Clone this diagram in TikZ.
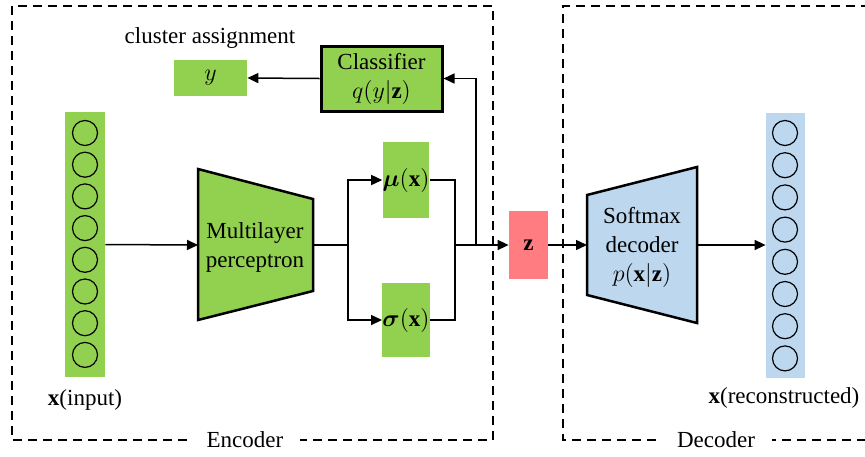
\documentclass[tikz,border=0pt]{standalone}
\usepackage{fontspec}
\setmainfont{Liberation Serif}
\usepackage{bm}
\usetikzlibrary{arrows.meta}
\definecolor{vgreen}{HTML}{92D050}
\definecolor{vblue}{HTML}{BDD7EE}
\definecolor{vred}{HTML}{FF7C80}
\begin{document}
\begin{tikzpicture}[x=0.5pt,y=-0.5pt,
  font=\fontsize{11.5}{14.5}\selectfont,
  conn/.style={line width=0.75pt,-{Triangle[length=5.5pt,width=5pt]}},
  plain/.style={line width=0.75pt},
  frame/.style={dash pattern=on 4.5pt off 3pt,line width=0.7pt},
  gbox/.style={fill=vgreen,inner sep=0pt},
  neuron/.style={circle,draw,line width=0.6pt,minimum size=12.5pt,inner sep=0pt},
  colbox/.style={inner sep=0pt,minimum width=20pt,minimum height=132.5pt},
  trap/.style={draw,line width=1.25pt,line join=miter},
  flabel/.style={fill=white,inner xsep=8.5pt,inner ysep=1pt}]
\useasboundingbox (0,0) rectangle (865,456);
\fill[white] (0,0) rectangle (865,456);

% frames
\draw[frame] (12,6) rectangle (493,440);
\draw[frame] (870,6) -- (563,6) -- (563,440) -- (870,440);
\node[flabel] (enc) at (245,440) {Encoder};
\node[flabel] (dec) at (716,440) {Decoder};

% input column
\node[colbox,fill=vgreen] (inp) at (85,244.5) {};
\foreach \i in {0,...,7}{
  \node[neuron] (in\i) at (85,133+\i*31.7) {};
}
\node (inlab) at (85,400) {$\mathbf{x}$(input)};

% MLP trapezoid
\draw[trap,fill=vgreen] (198,169) -- (313,199) -- (313,291) -- (198,320) -- cycle;
\coordinate (mlpL) at (198,245);
\coordinate (mlpR) at (313,245);
\node[align=center] (mlp) at (255,247) {Multilayer\\perceptron};

% mu, sigma
\node[gbox,minimum width=23pt,minimum height=38pt] (mu) at (406,180) {$\bm{\mu}(\mathbf{x})$};
\node[gbox,minimum width=23pt,minimum height=37pt] (sigma) at (406,320) {$\bm{\sigma}(\mathbf{x})$};
\coordinate (split) at (348,245);
\coordinate (join) at (455,245);
\coordinate (tap) at (476,245);

% classifier and y
\node[fill=vgreen,draw,line width=1.5pt,minimum width=60.5pt,minimum height=32.5pt,inner sep=0pt,align=center] (cls) at (381.5,78.5) {Classifier\\$q(y|\mathbf{z})$};
\node[gbox,minimum width=36.5pt,minimum height=18pt] (ybox) at (210.5,78) {\large$y$};
\node (clab) at (210,38) {cluster assignment};

% z
\node[fill=vred,inner sep=0pt,minimum width=19.5pt,minimum height=34pt] (z) at (528.5,245) {$\mathbf{z}$};

% decoder trapezoid
\draw[trap,fill=vblue] (587,195) -- (697,167) -- (697,323) -- (587,295) -- cycle;
\coordinate (decL) at (587,245);
\coordinate (decR) at (697,245);
\node[align=center] (softmax) at (642,247) {Softmax\\decoder\\$p(\mathbf{x}|\mathbf{z})$};

% output column
\node[colbox,fill=vblue,minimum width=19.5pt] (out) at (785.5,245) {};
\foreach \i in {0,...,7}{
  \node[neuron] (o\i) at (785,133+\i*32.2) {};
}
\node (outlab) at (784,398) {$\mathbf{x}$(reconstructed)};

% connectors
\draw[conn] (inp.east) -- (mlpL);
\draw[plain] (mlpR) -- (split);
\draw[conn] (split) |- (mu.west);
\draw[conn] (split) |- (sigma.west);
\draw[plain] (mu.east) -| (join);
\draw[plain] (sigma.east) -| (join);
\draw[conn] (join) -- (z.west);
\draw[conn] (tap) |- (cls.east);
\draw[conn] (cls.west) -- (ybox.east);
\draw[conn] (z.east) -- (decL);
\draw[conn] (decR) -- (out.west);
\end{tikzpicture}
\end{document}
